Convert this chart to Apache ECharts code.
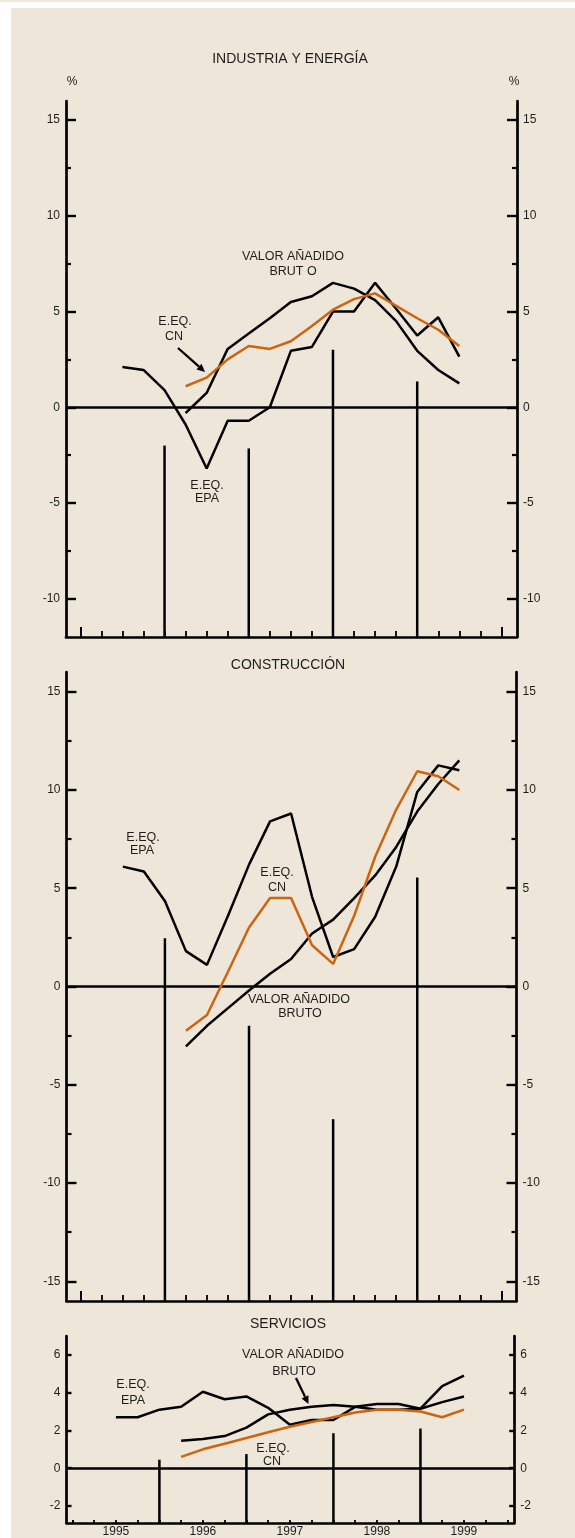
<!DOCTYPE html>
<html><head><meta charset="utf-8">
<script src="https://cdn.jsdelivr.net/npm/echarts@6/dist/echarts.min.js"></script>
<style>
html,body{margin:0;padding:0;background:#fff;width:575px;height:1538px;overflow:hidden}
#strip{position:absolute;left:0;top:0;width:575px;height:2px;background:#EEE6D8}
#bg{position:absolute;left:11px;top:8px;width:564px;height:1530px;background:#EEE6D8}
#chart{position:absolute;left:0;top:0;width:575px;height:1538px}
</style></head><body>
<div id="strip"></div><div id="bg"></div><div id="chart"></div>
<script>
// ---- data ----
const yearLabels = ['1995', '1996', '1997', '1998', '1999'];
const yearLabelQuarters = [2, 6, 10, 14, 18];
const quarterTicks = [0, 1, 2, 3, 4, 5, 6, 7, 8, 9, 10, 11, 12, 13, 14, 15, 16, 17, 18, 19, 20];
const endTicks = [0, 20];
const separatorQuarters = [4, 8, 12, 16];
const epaQuarters = [2, 3, 4, 5, 6, 7, 8, 9, 10, 11, 12, 13, 14, 15, 16, 17, 18];
const vaQuarters = [5, 6, 7, 8, 9, 10, 11, 12, 13, 14, 15, 16, 17, 18];

// Industria y energía
const indEPA = [2.1, 1.95, 0.9, -0.9, -3.2, -0.7, -0.7, 0.0, 2.95, 3.15, 5.0, 5.0, 6.5, 5.15, 3.75, 4.7, 2.65];
const indVAB = [-0.3, 0.75, 3.05, 3.85, 4.65, 5.5, 5.8, 6.5, 6.2, 5.6, 4.5, 2.95, 1.95, 1.25];
const indCN = [1.1, 1.55, 2.5, 3.2, 3.05, 3.45, 4.25, 5.1, 5.65, 5.95, 5.3, 4.65, 4.05, 3.2];
const indSeparators = [-2.0, -2.15, 3.0, 1.35];
const indMajor = [-10, -5, 0, 5, 10, 15];
const indMinor = [-7.5, -2.5, 2.5, 7.5, 12.5];

// Construcción
const conEPA = [6.1, 5.85, 4.35, 1.8, 1.1, 3.6, 6.2, 8.4, 8.8, 4.55, 1.5, 1.9, 3.55, 6.1, 9.9, 11.25, 11.0];
const conVAB = [-3.05, -2.0, -1.1, -0.2, 0.65, 1.4, 2.7, 3.4, 4.5, 5.65, 7.1, 8.9, 10.3, 11.5];
const conCN = [-2.25, -1.45, 0.75, 3.0, 4.5, 4.5, 2.1, 1.15, 3.6, 6.6, 9.0, 10.95, 10.7, 10.0];
const conSeparators = [2.45, -2.0, -6.75, 5.55];
const conMajor = [-15, -10, -5, 0, 5, 10, 15];
const conMinor = [-12.5, -7.5, -2.5, 2.5, 7.5, 12.5];

// Servicios
const serEPA = [2.7, 2.7, 3.1, 3.25, 4.05, 3.65, 3.8, 3.2, 2.3, 2.55, 2.55, 3.25, 3.1, 3.1, 3.15, 4.35, 4.9];
const serVAB = [1.45, 1.55, 1.7, 2.15, 2.85, 3.1, 3.25, 3.35, 3.25, 3.4, 3.4, 3.15, 3.5, 3.8];
const serCN = [0.6, 1.0, 1.3, 1.6, 1.9, 2.2, 2.45, 2.7, 2.95, 3.1, 3.1, 3.0, 2.7, 3.1];
const serSeparators = [0.45, 0.75, 1.85, 2.1];
const serMajor = [-2, 0, 2, 4, 6];
const serMinor = [];

// ---- layout ----
const FONT = '"Liberation Sans", Arial, sans-serif';
const INK = '#1e1e1e';
const ORANGE = '#CC6410';
const panels = [
  { grid: {left: 66, top: 101, width: 451, height: 536}, xMin: -0.68, xMax: 20.74, yMin: -12, yMax: 16,
    major: indMajor, minor: indMinor, majorLen: 10, minorLen: 5, xTickLen: 6, endTickLen: 10, years: false,
    epa: indEPA, vab: indVAB, cn: indCN, sep: indSeparators },
  { grid: {left: 66.5, top: 672, width: 450, height: 629}, xMin: -0.68, xMax: 20.72, yMin: -16, yMax: 16,
    major: conMajor, minor: conMinor, majorLen: 10, minorLen: 5, xTickLen: 6, endTickLen: 10, years: false,
    epa: conEPA, vab: conVAB, cn: conCN, sep: conSeparators },
  { grid: {left: 66.5, top: 1336, width: 447.7, height: 188}, xMin: -0.27, xMax: 20.31, yMin: -2.9, yMax: 7,
    major: serMajor, minor: serMinor, majorLen: 5, minorLen: 3, xTickLen: 3, endTickLen: 3, years: true,
    epa: serEPA, vab: serVAB, cn: serCN, sep: serSeparators }
];

const grids = [], xAxes = [], yAxes = [], series = [];
const labelStyle = {fontFamily: FONT, fontSize: 12, color: INK};
panels.forEach((p, g) => {
  grids.push(Object.assign({containLabel: false}, p.grid));
  xAxes.push({
    gridIndex: g, type: 'value', min: p.xMin, max: p.xMax, position: 'bottom',
    axisLine: {show: true, onZero: false, lineStyle: {color: '#000', width: 2.7}},
    axisTick: {show: true, inside: true, length: p.xTickLen, customValues: quarterTicks, lineStyle: {color: '#000', width: 1.8}},
    axisLabel: Object.assign({show: p.years, margin: 3, customValues: yearLabelQuarters,
      formatter: v => yearLabels[yearLabelQuarters.indexOf(Math.round(v))] || ''}, labelStyle),
    splitLine: {show: false}
  });
  xAxes.push({
    gridIndex: g, type: 'value', min: p.xMin, max: p.xMax, position: 'bottom',
    axisLine: {show: false, onZero: false},
    axisTick: {show: true, inside: true, length: p.endTickLen, customValues: endTicks, lineStyle: {color: '#000', width: 2}},
    axisLabel: {show: false}, splitLine: {show: false}
  });
  ['left', 'right'].forEach(side => {
    yAxes.push({
      gridIndex: g, type: 'value', min: p.yMin, max: p.yMax, position: side,
      axisLine: {show: true, onZero: false, lineStyle: {color: '#000', width: 2.7}},
      axisTick: {show: true, inside: true, length: p.majorLen, customValues: p.major, lineStyle: {color: '#000', width: 2.4}},
      axisLabel: Object.assign({show: true, margin: 6, customValues: p.major}, labelStyle),
      splitLine: {show: false}
    });
    yAxes.push({
      gridIndex: g, type: 'value', min: p.yMin, max: p.yMax, position: side,
      axisLine: {show: false, onZero: false},
      axisTick: {show: p.minor.length > 0, inside: true, length: p.minorLen, customValues: p.minor.length ? p.minor : [p.yMin], lineStyle: {color: '#000', width: 2.2}},
      axisLabel: {show: false}, splitLine: {show: false}
    });
  });
  const xi = 2 * g, yi = 4 * g;
  const yBottom = p.yMin;
  series.push({
    type: 'custom', xAxisIndex: xi, yAxisIndex: yi, z: 3, silent: true,
    data: separatorQuarters.map((q, i) => [q, p.sep[i]]),
    renderItem: (params, api) => {
      const a = api.coord([api.value(0), yBottom]);
      const b = api.coord([api.value(0), api.value(1)]);
      return {type: 'line', shape: {x1: a[0], y1: a[1], x2: b[0], y2: b[1]}, style: {stroke: '#000', lineWidth: 2.5}};
    }
  });
  series.push({
    type: 'line', xAxisIndex: xi, yAxisIndex: yi, symbol: 'none', z: 4, silent: true,
    data: epaQuarters.map((q, i) => [q, p.epa[i]]),
    lineStyle: {color: '#000', width: 2.5},
    markLine: {silent: true, symbol: ['none', 'none'], label: {show: false},
      lineStyle: {color: '#000', width: 2.5, type: 'solid'}, data: [{yAxis: 0}]}
  });
  series.push({
    type: 'line', xAxisIndex: xi, yAxisIndex: yi, symbol: 'none', z: 4, silent: true,
    data: vaQuarters.map((q, i) => [q, p.vab[i]]),
    lineStyle: {color: '#000', width: 2.5}
  });
  series.push({
    type: 'line', xAxisIndex: xi, yAxisIndex: yi, symbol: 'none', z: 5, silent: true,
    data: vaQuarters.map((q, i) => [q, p.cn[i]]),
    lineStyle: {color: ORANGE, width: 2.5}
  });
});

// ---- annotations ----
function txt(text, x, y, size) {
  return {type: 'text', x: x, y: y, silent: true, z: 10,
    style: {text: text, font: (size || 12.5) + 'px ' + FONT, fill: INK,
      align: 'center', verticalAlign: 'middle', textAlign: 'center', textVerticalAlign: 'middle'}};
}
function arrow(x1, y1, x2, y2) {
  const a = Math.atan2(y2 - y1, x2 - x1), L = 8, W = 3.8;
  const bx = x2 - L * Math.cos(a), by = y2 - L * Math.sin(a);
  const px = -Math.sin(a), py = Math.cos(a);
  return [
    {type: 'line', silent: true, z: 10, shape: {x1: x1, y1: y1, x2: bx, y2: by}, style: {stroke: '#000', lineWidth: 2.3}},
    {type: 'polygon', silent: true, z: 10, shape: {points: [[x2, y2], [bx + W * px, by + W * py], [bx - W * px, by - W * py]]}, style: {fill: '#000'}}
  ];
}
const graphics = [
  txt('INDUSTRIA Y ENERGÍA', 290, 59, 14),
  txt('%', 72, 82, 12), txt('%', 514, 82, 12),
  txt('VALOR AÑADIDO', 293, 257), txt('BRUT O', 293, 272),
  txt('E.EQ.', 175, 322), txt('CN', 174, 337),
  txt('E.EQ.', 207, 486), txt('EPA', 207, 498.5),
  txt('CONSTRUCCIÓN', 288, 665, 14),
  txt('E.EQ.', 143, 838), txt('EPA', 142, 851),
  txt('E.EQ.', 277, 873), txt('CN', 277, 888),
  txt('VALOR AÑADIDO', 299, 1000), txt('BRUTO', 300, 1013.5),
  txt('SERVICIOS', 288, 1324, 14),
  txt('E.EQ.', 133, 1385), txt('EPA', 133, 1400.5),
  txt('VALOR AÑADIDO', 293, 1355), txt('BRUTO', 294, 1371.5),
  txt('E.EQ.', 273, 1448.5), txt('CN', 272, 1461.5)
].concat(arrow(178, 348, 205, 372)).concat(arrow(296, 1378, 308.5, 1404));

const chart = echarts.init(document.getElementById('chart'), null, {renderer: 'canvas'});
chart.setOption({
  animation: false,
  backgroundColor: 'transparent',
  grid: grids, xAxis: xAxes, yAxis: yAxes, series: series,
  graphic: {elements: graphics}
});
</script></body></html>
